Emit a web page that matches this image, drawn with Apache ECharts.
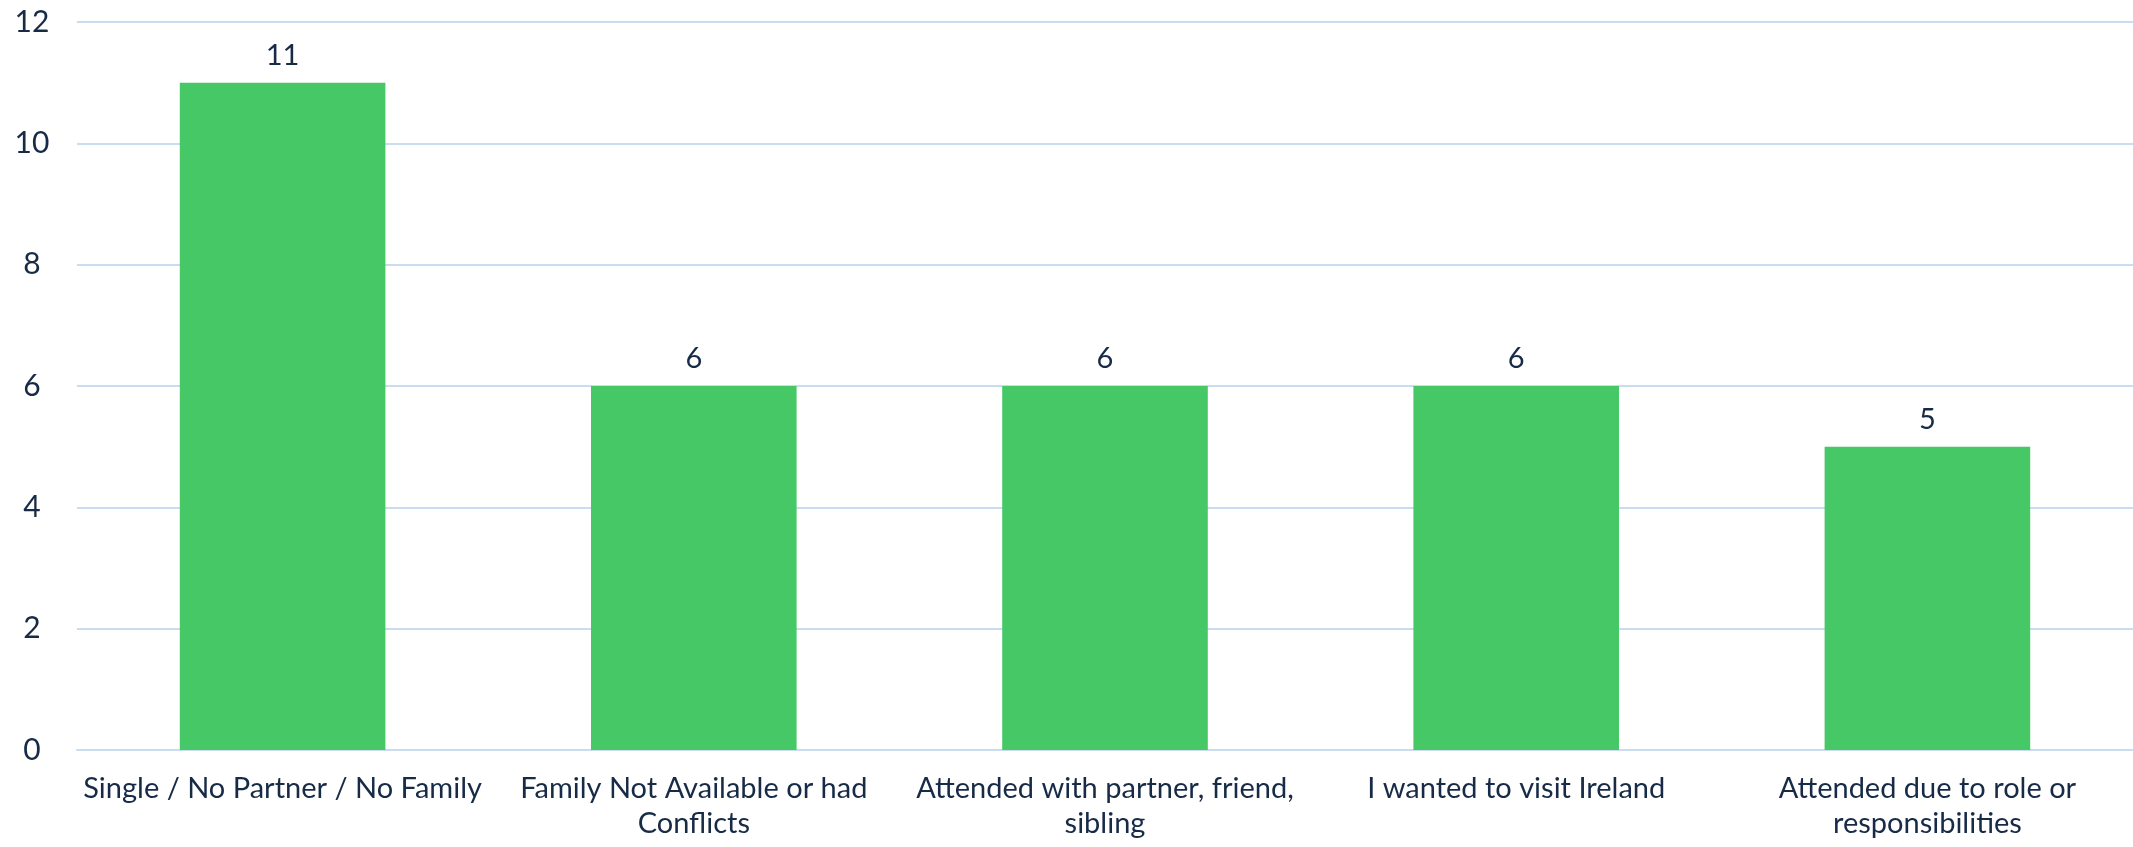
<!DOCTYPE html>
<html>
<head>
<meta charset="utf-8">
<script src="https://cdn.jsdelivr.net/npm/echarts@6/dist/echarts.min.js"></script>
<style>
html, body { margin: 0; padding: 0; background: #fff; }
#chart { width: 2133px; height: 847px; }
</style>
</head>
<body>
<div id="chart"></div>
<script>
var categories = [
    'Single / No Partner / No Family',
    'Family Not Available or had\nConflicts',
    'Attended with partner, friend,\nsibling',
    'I wanted to visit Ireland',
    'Attended due to role or\nresponsibilities'
];
var counts = [11, 6, 6, 6, 5];
var yTicks = [0, 2, 4, 6, 8, 10, 12];

var textColor = '#172b47';
var gridColor = '#c9dcf0';
var fontName = 'Lato';

var chart = echarts.init(document.getElementById('chart'));
chart.setOption({
    backgroundColor: '#fff',
    animation: false,
    grid: { left: 77, right: 0, top: 22, bottom: 97 },
    xAxis: {
        type: 'category',
        data: categories,
        axisLine: { show: true, lineStyle: { color: gridColor, width: 2 } },
        axisTick: { show: false },
        axisLabel: {
            color: textColor,
            fontFamily: fontName,
            fontSize: 29,
            lineHeight: 35,
            margin: 21,
            interval: 0
        }
    },
    yAxis: {
        type: 'value',
        min: yTicks[0],
        max: yTicks[yTicks.length - 1],
        interval: 2,
        axisLine: { show: false },
        axisTick: { show: false },
        splitLine: { lineStyle: { color: gridColor, width: 2 } },
        axisLabel: {
            color: textColor,
            fontFamily: fontName,
            fontSize: 30,
            align: 'center',
            margin: 45
        }
    },
    series: [{
        type: 'bar',
        data: counts,
        barWidth: '50%',
        itemStyle: { color: '#46c866' },
        label: {
            show: true,
            position: 'top',
            distance: 13,
            color: textColor,
            fontFamily: fontName,
            fontSize: 29
        }
    }]
});
</script>
</body>
</html>
